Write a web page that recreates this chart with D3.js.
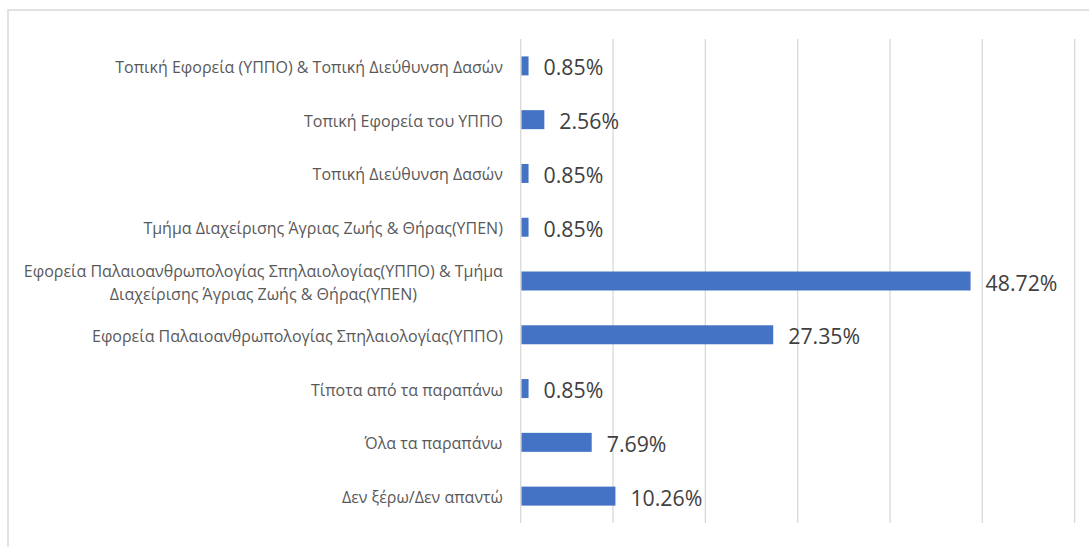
<!DOCTYPE html>
<html><head><meta charset="utf-8">
<script src="https://cdn.jsdelivr.net/npm/d3@7"></script>
<style>html,body{margin:0;padding:0;background:#fff;}svg{display:block;}</style>
</head><body>
<svg id="chart" width="1089" height="547"></svg>
<script>
const categories = [
  ["Τοπική Εφορεία (ΥΠΠΟ) & Τοπική Διεύθυνση Δασών"],
  ["Τοπική Εφορεία του ΥΠΠΟ"],
  ["Τοπική Διεύθυνση Δασών"],
  ["Τμήμα Διαχείρισης Άγριας Ζωής & Θήρας(ΥΠΕΝ)"],
  ["Εφορεία Παλαιοανθρωπολογίας Σπηλαιολογίας(ΥΠΠΟ) & Τμήμα", "Διαχείρισης Άγριας Ζωής & Θήρας(ΥΠΕΝ)"],
  ["Εφορεία Παλαιοανθρωπολογίας Σπηλαιολογίας(ΥΠΠΟ)"],
  ["Τίποτα από τα παραπάνω"],
  ["Όλα τα παραπάνω"],
  ["Δεν ξέρω/Δεν απαντώ"]
];
const values = [0.85, 2.56, 0.85, 0.85, 48.72, 27.35, 0.85, 7.69, 10.26];
const tickValues = [0, 10, 20, 30, 40, 50, 60];

const svg = d3.select("#chart");
const font = "'Open Sans', sans-serif";

// chart border
svg.append("rect").attr("x", 8).attr("y", 10).attr("width", 1100).attr("height", 560)
  .attr("fill", "none").attr("stroke", "#d9d9d9").attr("stroke-width", 1.5);

const x = d3.scaleLinear().domain([0, 60]).range([520.7, 1074.7]);
const y = d3.scaleBand().domain(d3.range(categories.length)).range([39, 523]).paddingInner(0.647).paddingOuter(0.3235);

// gridlines
svg.append("g").selectAll("line").data(tickValues).join("line")
  .attr("x1", d => x(d)).attr("x2", d => x(d))
  .attr("y1", 39).attr("y2", 523)
  .attr("stroke", "#d9d9d9").attr("stroke-width", 1.3);

// bars
svg.append("g").selectAll("rect").data(values).join("rect")
  .attr("x", x(0) + 0.8)
  .attr("y", (d, i) => y(i))
  .attr("width", d => x(d) - x(0) - 0.8)
  .attr("height", y.bandwidth())
  .attr("fill", "#4472c4");

// value labels
svg.append("g").selectAll("text").data(values).join("text")
  .attr("x", d => x(d) + 15)
  .attr("y", (d, i) => y(i) + y.bandwidth() / 2 + 1)
  .attr("dominant-baseline", "central")
  .attr("font-family", font).attr("font-size", 21.3).attr("fill", "#404040")
  .text(d => d.toFixed(2) + "%");

// category labels
const lg = svg.append("g");
categories.forEach((lines, i) => {
  const cy = y(i) + y.bandwidth() / 2 + 1;
  const lh = 23;
  const t = lg.append("text")
    .attr("font-family", font).attr("font-size", 16).attr("fill", "#595959");
  lines.forEach((ln, j) => {
    t.append("tspan").attr("x", 0).attr("y", cy + (j - (lines.length - 1) / 2) * lh)
      .attr("dominant-baseline", "central").attr("text-anchor", "middle").text(ln);
  });
  // right-align block at x=503, lines centered within block
  const w = t.node().getBBox().width;
  t.attr("transform", `translate(${503 - w / 2},0)`);
});
</script>
</body></html>
